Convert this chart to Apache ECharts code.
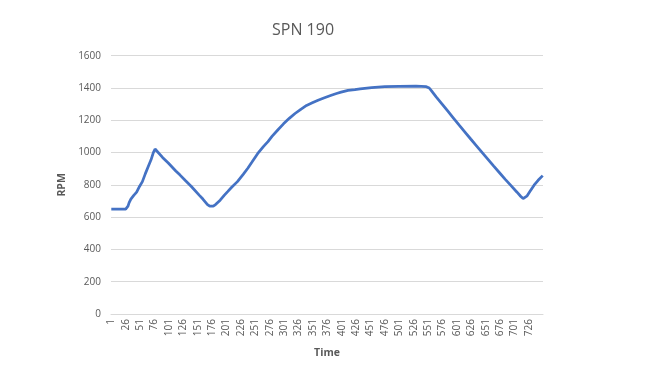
<!DOCTYPE html>
<html>
<head>
<meta charset="utf-8">
<script src="https://cdn.jsdelivr.net/npm/echarts@6/dist/echarts.min.js"></script>
<style>
html,body{margin:0;padding:0;background:#fff;}
#chart{width:646px;height:386px;}
</style>
</head>
<body>
<div id="chart"></div>
<script>
// Chart text
const chartTitle = "SPN 190";
const xAxisTitle = "Time";
const yAxisTitle = "RPM";

// Sample count on the category (Time) axis and label step
const sampleCount = 750;
const labelStep = 25;

// Readings: time (sample number) and RPM
const sampleTime = [
  1, 26, 28, 30, 32, 35, 40, 45, 50, 52, 55, 60, 65, 70, 74, 77,
  80, 90, 100, 113, 120, 130, 140, 154, 160, 168, 172, 178,
  182, 190, 197, 203, 210, 220, 230, 238, 245, 255, 265, 273, 280, 290,
  300, 310, 320, 330, 340, 350, 360, 370, 383, 392, 400, 412, 424, 433,
  453, 476, 500, 530, 548,
  550, 553, 557, 565, 575, 585, 595, 605, 615, 625, 635, 645, 655, 665,
  675, 685, 695, 705, 712, 716, 719, 723, 728, 735, 742, 750
];
const rpmValues = [
  650, 650, 655, 668, 690, 712, 735, 755, 790, 800, 820, 868, 912, 955, 1000, 1022,
  1010, 970, 935, 886, 862, 825, 790, 735, 712, 678, 668, 668,
  678, 705, 735, 758, 785, 820, 865, 903, 940, 993, 1037, 1068, 1100, 1140,
  1178, 1212, 1242, 1268, 1292, 1308, 1324, 1338, 1355, 1366, 1374, 1385, 1390, 1395,
  1402, 1408, 1410, 1411, 1408,
  1408, 1400, 1382, 1345, 1302, 1258, 1214, 1170, 1127, 1084, 1042, 1000, 958, 916,
  875, 834, 795, 756, 728, 715, 716, 732, 760, 798, 828, 857
];

// Y axis scale
const yMin = 0, yMax = 1600, yStep = 200;

const categories = Array.from({length: sampleCount}, (_, i) => String(i + 1));
const seriesData = sampleTime.map((t, k) => [t - 1, rpmValues[k]]);

const chart = echarts.init(document.getElementById('chart'), null, {renderer: 'canvas'});
const grey = '#595959';
const fontFam = '"Open Sans", "Liberation Sans", sans-serif';
chart.setOption({
  animation: false,
  backgroundColor: '#ffffff',
  title: {
    text: chartTitle,
    left: 267,
    top: 17,
    textStyle: {fontFamily: fontFam, fontSize: 16, fontWeight: 'normal', color: grey}
  },
  grid: {left: 111, right: 103, top: 55.7, bottom: 72, containLabel: false},
  xAxis: {
    type: 'category',
    data: categories,
    boundaryGap: true,
    name: xAxisTitle,
    nameLocation: 'middle',
    nameGap: 34,
    nameTextStyle: {fontFamily: fontFam, fontSize: 10.5, fontWeight: 'bold', color: grey},
    axisLine: {lineStyle: {color: '#d9d9d9', width: 1}},
    axisTick: {show: false},
    axisLabel: {
      interval: labelStep - 1,
      rotate: 90,
      margin: 5,
      fontFamily: fontFam,
      fontSize: 10,
      color: grey
    },
    splitLine: {show: false}
  },
  yAxis: {
    type: 'value',
    min: yMin,
    max: yMax,
    interval: yStep,
    name: yAxisTitle,
    nameLocation: 'middle',
    nameGap: 37,
    nameRotate: 90,
    nameTextStyle: {fontFamily: fontFam, fontSize: 10.5, fontWeight: 'bold', color: grey},
    axisLine: {show: false},
    axisTick: {show: false},
    axisLabel: {margin: 10, fontFamily: fontFam, fontSize: 10, color: grey,
      formatter: v => String(v)},
    splitLine: {lineStyle: {color: '#d9d9d9', width: 1}}
  },
  series: [{
    type: 'line',
    data: seriesData,
    showSymbol: false,
    symbol: 'none',
    smooth: false,
    lineStyle: {color: '#4472C4', width: 2.75},
    itemStyle: {color: '#4472C4'}
  }]
});
</script>
</body>
</html>
